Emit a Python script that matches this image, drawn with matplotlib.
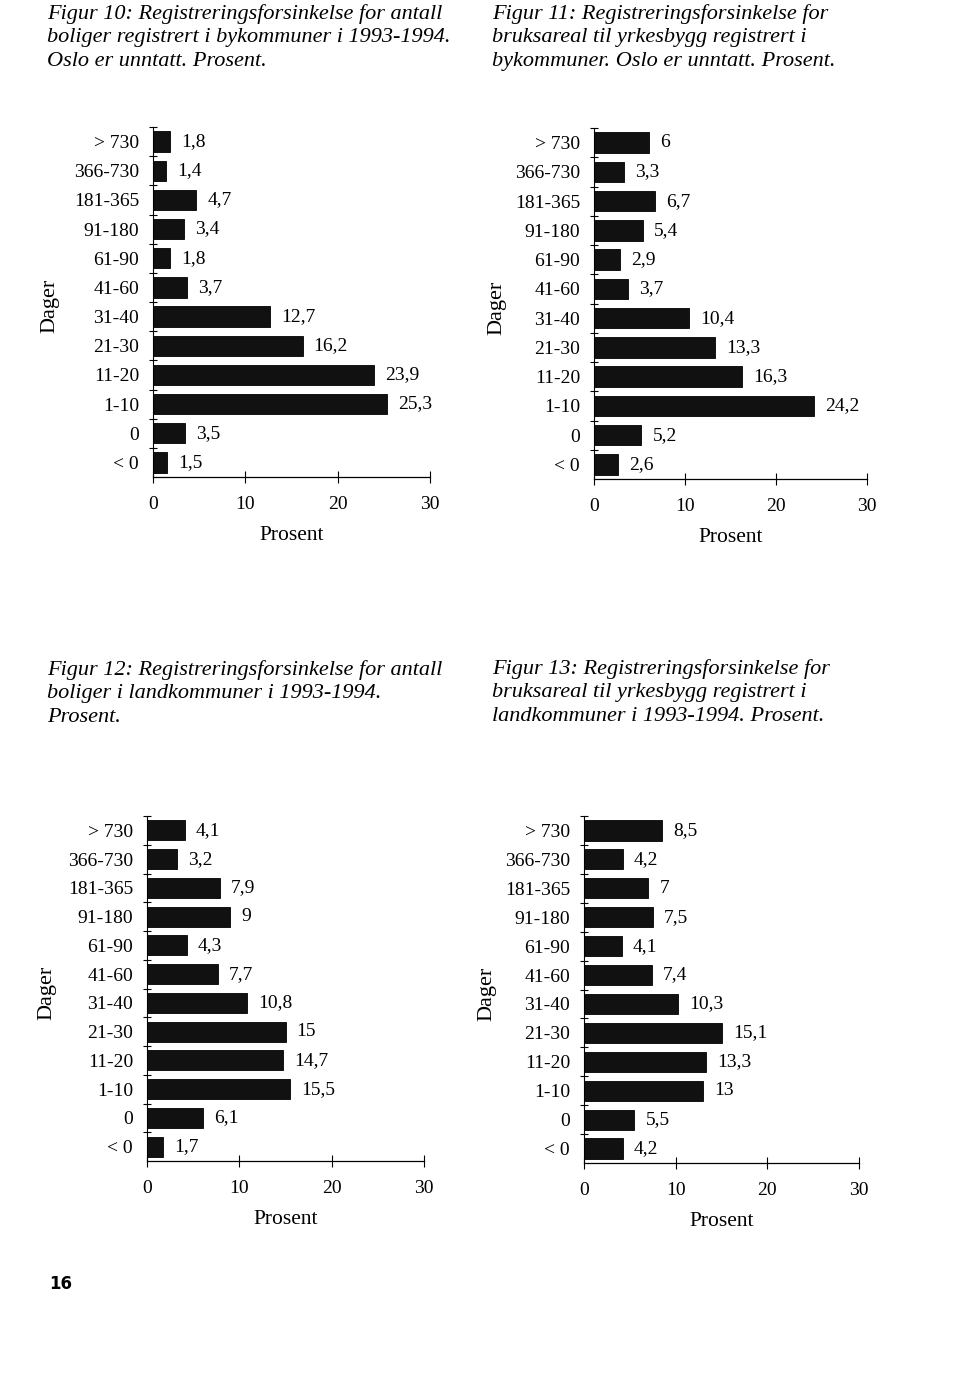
import matplotlib
matplotlib.use("Agg")
from matplotlib import pyplot as plt
from matplotlib.ticker import FixedLocator

plt.rcParams['font.family'] = ['Liberation Serif', 'DejaVu Serif']

W, H = 960, 1374

# kategorier (dager), felles for alle fire figurene
kategorier = ["> 730", "366-730", "181-365", "91-180", "61-90", "41-60",
              "31-40", "21-30", "11-20", "1-10", "0", "< 0"]

# prosentverdier lest av figurene
fig10 = [1.8, 1.4, 4.7, 3.4, 1.8, 3.7, 12.7, 16.2, 23.9, 25.3, 3.5, 1.5]
fig11 = [6, 3.3, 6.7, 5.4, 2.9, 3.7, 10.4, 13.3, 16.3, 24.2, 5.2, 2.6]
fig12 = [4.1, 3.2, 7.9, 9, 4.3, 7.7, 10.8, 15, 14.7, 15.5, 6.1, 1.7]
fig13 = [8.5, 4.2, 7, 7.5, 4.1, 7.4, 10.3, 15.1, 13.3, 13, 5.5, 4.2]

x_ticks = [0, 10, 20, 30]

titler = [
    "Figur 10: Registreringsforsinkelse for antall\nboliger registrert i bykommuner i 1993-1994.\nOslo er unntatt. Prosent.",
    "Figur 11: Registreringsforsinkelse for\nbruksareal til yrkesbygg registrert i\nbykommuner. Oslo er unntatt. Prosent.",
    "Figur 12: Registreringsforsinkelse for antall\nboliger i landkommuner i 1993-1994.\nProsent.",
    "Figur 13: Registreringsforsinkelse for\nbruksareal til yrkesbygg registrert i\nlandkommuner i 1993-1994. Prosent.",
]

fig = plt.figure(figsize=(W / 100, H / 100), dpi=100)
fig.patch.set_facecolor("white")

FS = 14


def fmt(v):
    return ("%g" % v).replace(".", ",")


def tegn(verdier, x0, x1, y0, y1, tittel, tx, ty, dager_x):
    ax = fig.add_axes([x0 / W, 1 - y1 / H, (x1 - x0) / W, (y1 - y0) / H])
    pos = list(range(len(kategorier)))
    ax.barh(pos, verdier, height=0.7, color="#111111", edgecolor="#000000", linewidth=0.6)
    ax.set_xlim(0, 30)
    ax.set_ylim(len(kategorier) - 0.5, -0.5)
    ax.set_yticks(pos)
    ax.set_yticklabels(kategorier, fontsize=FS)
    ax.yaxis.set_minor_locator(FixedLocator([p - 0.5 for p in pos]))
    ax.tick_params(axis="y", which="major", length=0, pad=10)
    ax.tick_params(axis="y", which="minor", direction="inout", length=6, width=0.8)
    ax.set_xticks(x_ticks)
    ax.set_xticklabels([str(t) for t in x_ticks], fontsize=FS)
    ax.tick_params(axis="x", direction="inout", length=8, width=0.8, pad=10)
    for s in ["top", "right"]:
        ax.spines[s].set_visible(False)
    ax.spines["left"].set_linewidth(0.8)
    ax.spines["bottom"].set_linewidth(0.9)
    ax.set_facecolor("none")
    for p, v in zip(pos, verdier):
        ax.annotate(fmt(v), (v, p), xytext=(8, 0), textcoords="offset points",
                    va="center", ha="left", fontsize=FS)
    ax.set_xlabel("Prosent", fontsize=15.5, labelpad=9)
    fig.text(dager_x / W, 1 - ((y0 + y1) / 2 + 4) / H, "Dager", rotation=90,
             ha="center", va="center", fontsize=16)
    fig.text(tx / W, 1 - ty / H, tittel, ha="left", va="top", fontsize=16,
             style="italic", linespacing=1.32)
    return ax


tegn(fig10, 153, 430, 127, 477, titler[0], 47, 4, 50)
tegn(fig11, 594, 867, 128, 479, titler[1], 492, 4, 497)
tegn(fig12, 147, 424, 816, 1161, titler[2], 47, 660, 47)
tegn(fig13, 584, 859, 816, 1163, titler[3], 492, 659, 487)

fig.text(49 / W, 1 - 1284 / H, "16", family="DejaVu Sans", fontweight="bold",
         fontsize=12, ha="left", va="center")

fig.savefig("out.png", dpi=100)
